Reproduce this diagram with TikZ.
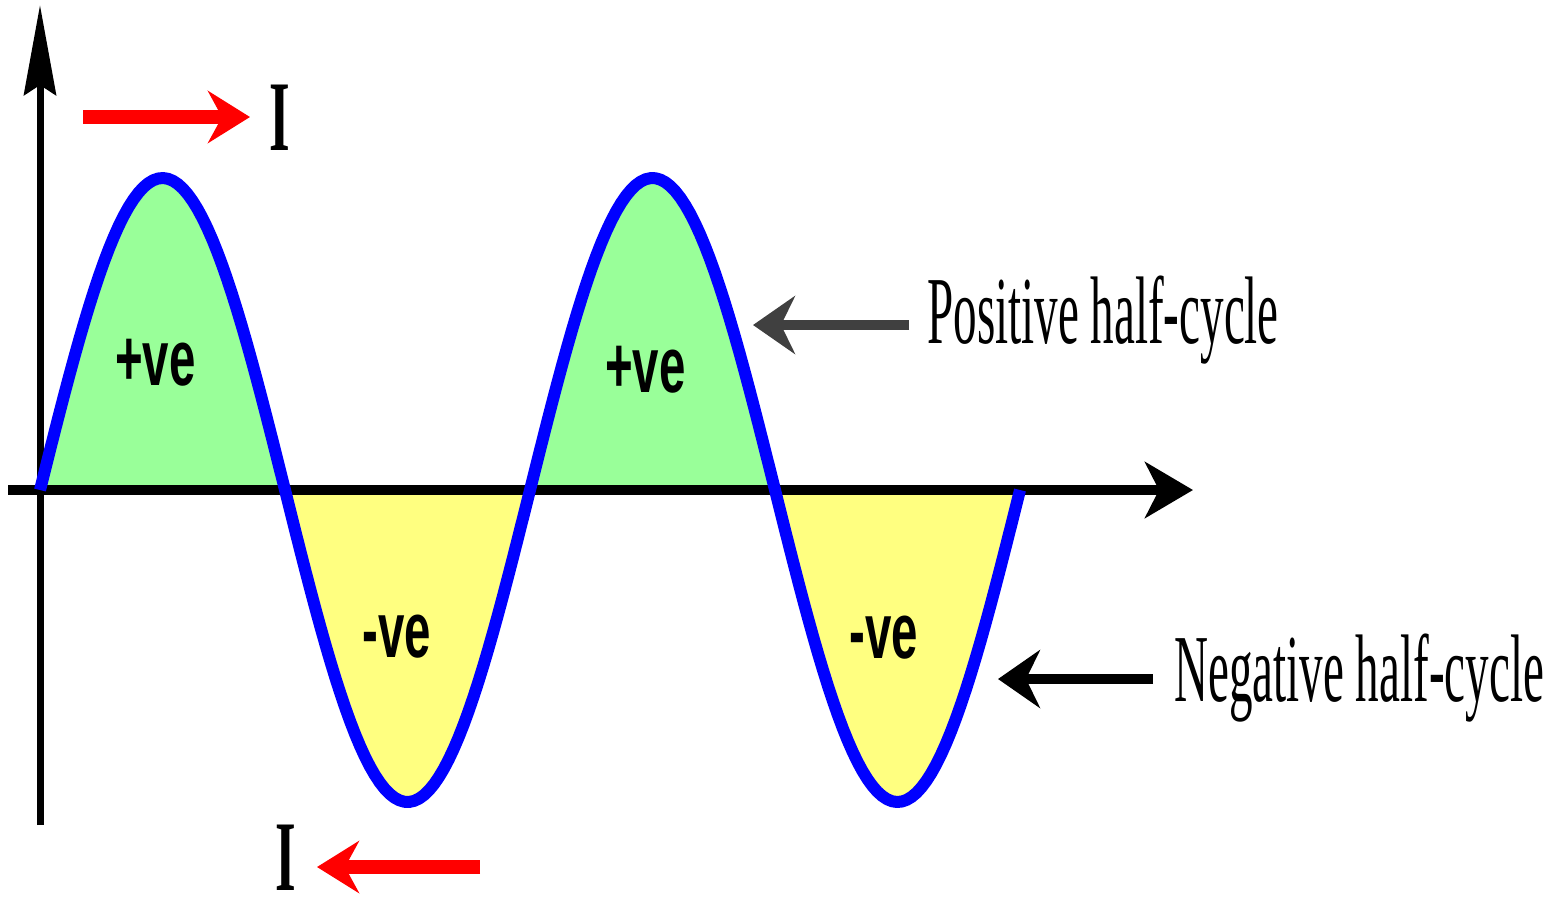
\documentclass[tikz,border=0pt]{standalone}
\usepackage{fontspec}
\setmainfont{Liberation Serif}
\newfontfamily\signfont{Liberation Sans}
\usepackage{xcolor}
\usetikzlibrary{arrows.meta}
\definecolor{posgreen}{RGB}{153,255,153}
\definecolor{negyellow}{RGB}{255,255,128}
\definecolor{wavecol}{RGB}{0,0,255}
\newcommand{\narrow}[2]{\scalebox{#1}[1]{#2}}

\begin{document}
\begin{tikzpicture}[x=0.5pt, y=-0.5pt,
  wave/.style={draw=wavecol, line width=6pt, line join=round},
  sign/.style={anchor=base, inner sep=0pt,
               font=\signfont\bfseries\fontsize{39.5}{40}\selectfont},
  curlab/.style={anchor=base, inner sep=0pt,
                 font=\bfseries\fontsize{50}{52}\selectfont},
  halflab/.style={anchor=base west, inner sep=0pt,
                  font=\fontsize{48}{50}\selectfont},
  flow/.style={draw=red, line width=7pt,
               -{Stealth[length=21pt, width=26pt, inset=7pt]}},
  pointer/.style={line width=5pt,
                  -{Stealth[length=21pt, width=29pt, inset=7pt]}}]
\useasboundingbox (0,0) rectangle (1550,896);

% half-cycle areas
\foreach \a/\b/\c in {0/245/posgreen, 245/490/negyellow,
                      490/735/posgreen, 735/980/negyellow}
  \fill[\c] ({40+\a},490) -- plot[domain=\a:\b, samples=60]
    ({40+\x},{490-312*sin(\x/490*360)}) -- cycle;

% axes
\coordinate (yfoot) at (40,825);
\coordinate (ytop) at (40,5);
\coordinate (xleft) at (8,490);
\coordinate (xright) at (1193,490);
\draw[line width=3.5pt, -{Stealth[length=45pt, width=16pt, inset=5pt]}]
  (yfoot) -- (ytop);
\draw[line width=5pt, -{Stealth[length=24pt, width=28pt, inset=7pt]}]
  (xleft) -- (xright);

% the wave
\draw[wave] plot[domain=0:980, samples=200]
  ({40+\x},{490-312*sin(\x/490*360)});

\node[sign] (pos1) at (155.5,385) {\narrow{0.6}{+ve}};
\node[sign] (pos2) at (645.5,392) {\narrow{0.6}{+ve}};
\node[sign] (neg1) at (397,657) {\narrow{0.6}{-ve}};
\node[sign] (neg2) at (883.5,658) {\narrow{0.6}{-ve}};

% current direction
\node[curlab] (itop) at (279.5,150) {\narrow{0.53}{I}};
\node[curlab] (ibot) at (286,890) {\narrow{0.53}{I}};
\coordinate (toptail) at (83,117);
\coordinate (toptip) at (250,117);
\coordinate (bottail) at (480,867);
\coordinate (bottip) at (317,867);
\draw[flow] (toptail) -- (toptip);
\draw[flow] (bottail) -- (bottip);

% labels
\node[halflab] (poslbl) at (927,343) {\narrow{0.49}{Positive half-cycle}};
\node[halflab] (neglbl) at (1174,701) {\narrow{0.49}{Negative half-cycle}};
\coordinate (postail) at (909,325);
\coordinate (postip) at (753,325);
\coordinate (negtail) at (1153,679);
\coordinate (negtip) at (998,679);
\draw[pointer, draw=black!75] (postail) -- (postip);
\draw[pointer] (negtail) -- (negtip);
\end{tikzpicture}
\end{document}
